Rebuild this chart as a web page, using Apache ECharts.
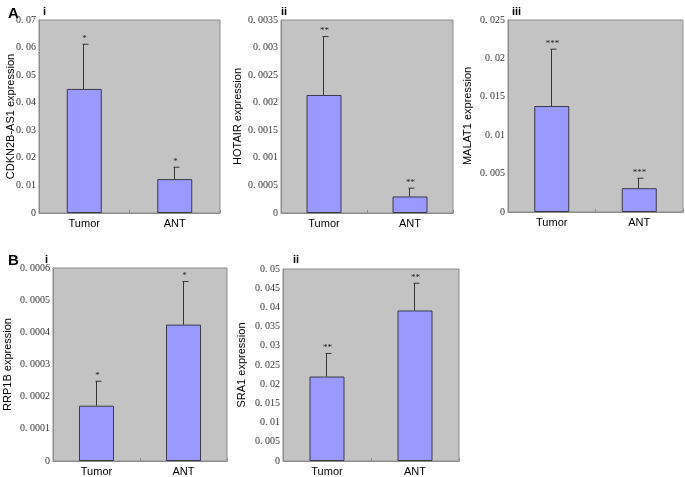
<!DOCTYPE html>
<html>
<head>
<meta charset="utf-8">
<script src="https://cdn.jsdelivr.net/npm/echarts@6/dist/echarts.min.js"></script>
<style>
  html, body { margin: 0; padding: 0; background: #fff; }
  #chart { width: 685px; height: 477px; }
</style>
</head>
<body>
<div id="chart"></div>
<script>
// ---- Data ----
const categories = ['Tumor', 'ANT'];

const cdkn2bValues = [0.045, 0.0123];
const cdkn2bErrTop = [0.0612, 0.0166];
const cdkn2bMarks = ['*', '*'];
const cdkn2bTicks = ['0', '0. 01', '0. 02', '0. 03', '0. 04', '0. 05', '0. 06', '0. 07'];

const hotairValues = [0.00214, 0.0003];
const hotairErrTop = [0.0032, 0.00045];
const hotairMarks = ['**', '**'];
const hotairTicks = ['0', '0. 0005', '0. 001', '0. 0015', '0. 002', '0. 0025', '0. 003', '0. 0035'];

const malat1Values = [0.0138, 0.0031];
const malat1ErrTop = [0.0212, 0.0044];
const malat1Marks = ['***', '***'];
const malat1Ticks = ['0', '0. 005', '0. 01', '0. 015', '0. 02', '0. 025'];

const rrp1bValues = [0.000172, 0.000424];
const rrp1bErrTop = [0.000248, 0.000558];
const rrp1bMarks = ['*', '*'];
const rrp1bTicks = ['0', '0. 0001', '0. 0002', '0. 0003', '0. 0004', '0. 0005', '0. 0006'];

const sra1Values = [0.022, 0.0392];
const sra1ErrTop = [0.028, 0.0463];
const sra1Marks = ['**', '**'];
const sra1Ticks = ['0', '0. 005', '0. 01', '0. 015', '0. 02', '0. 025', '0. 03', '0. 035', '0. 04', '0. 045', '0. 05'];

// ---- Panels ----
const panels = [
  { name: 'CDKN2B-AS1 expression', values: cdkn2bValues, err: cdkn2bErrTop, marks: cdkn2bMarks, ticks: cdkn2bTicks, interval: 0.01,
    grid: { left: 39, top: 20, width: 181, height: 193 }, nameGap: 23 },
  { name: 'HOTAIR expression', values: hotairValues, err: hotairErrTop, marks: hotairMarks, ticks: hotairTicks, interval: 0.0005,
    grid: { left: 281, top: 20, width: 172, height: 193 }, nameGap: 38 },
  { name: 'MALAT1 expression', values: malat1Values, err: malat1ErrTop, marks: malat1Marks, ticks: malat1Ticks, interval: 0.005,
    grid: { left: 508, top: 20, width: 175, height: 192 }, nameGap: 35 },
  { name: 'RRP1B expression', values: rrp1bValues, err: rrp1bErrTop, marks: rrp1bMarks, ticks: rrp1bTicks, interval: 0.0001,
    grid: { left: 53, top: 268, width: 174, height: 196 }, nameGap: 40 },
  { name: 'SRA1 expression', values: sra1Values, err: sra1ErrTop, marks: sra1Marks, ticks: sra1Ticks, interval: 0.005,
    grid: { left: 283, top: 269, width: 176, height: 195 }, nameGap: 36 }
];

const grids = [], xAxes = [], yAxes = [], series = [];
panels.forEach((p, i) => {
  grids.push(Object.assign({
    show: true, backgroundColor: '#C3C3C3', borderColor: '#8c8c8c', borderWidth: 1
  }, p.grid));
  xAxes.push({
    type: 'category', gridIndex: i, data: categories,
    axisLine: { lineStyle: { color: '#8c8c8c' } },
    axisTick: { show: true, inside: true, length: 3, lineStyle: { color: '#8c8c8c' } },
    axisLabel: { fontFamily: 'Liberation Sans', fontSize: 11, color: '#000', margin: 5 }
  });
  const maxV = p.interval * (p.ticks.length - 1);
  yAxes.push({
    type: 'value', gridIndex: i, min: 0, max: maxV, interval: p.interval,
    name: p.name, nameLocation: 'middle', nameGap: p.nameGap, nameMoveOverlap: false,
    nameTextStyle: { fontFamily: 'Liberation Sans', fontSize: 11, color: '#000' },
    splitLine: { show: false },
    axisLine: { show: true, lineStyle: { color: '#8c8c8c' } },
    axisTick: { show: false },
    axisLabel: {
      fontFamily: 'Liberation Serif', fontSize: 10, color: '#333', margin: 3,
      formatter: (v) => p.ticks[Math.round(v / p.interval)] || ''
    }
  });
  series.push({
    type: 'bar', xAxisIndex: i, yAxisIndex: i, data: p.values, barWidth: 35,
    itemStyle: { color: '#9999FF', borderColor: '#3a3a4a', borderWidth: 1 },
    silent: true
  });
  series.push({
    type: 'custom', xAxisIndex: i, yAxisIndex: i, silent: true, z: 5,
    data: p.values.map((v, k) => [k, v, p.err[k]]),
    renderItem: (params, api) => {
      const k = api.value(0);
      const a = api.coord([k, api.value(1)]);
      const b = api.coord([k, api.value(2)]);
      const x = Math.round(a[0]) - 0.5;
      return {
        type: 'group',
        children: [
          { type: 'line', shape: { x1: x, y1: a[1], x2: x, y2: b[1] }, style: { stroke: '#333', lineWidth: 1 } },
          { type: 'line', shape: { x1: x - 1, y1: b[1], x2: x + 5, y2: b[1] }, style: { stroke: '#333', lineWidth: 1 } },
          { type: 'text', x: x + 1, y: b[1] - 1, style: { text: p.marks[params.dataIndex], fill: '#222', fontSize: 9, fontFamily: 'Liberation Serif', align: 'center', verticalAlign: 'bottom' } }
        ]
      };
    }
  });
});

const titleStyle = { fontFamily: 'Liberation Sans', fontWeight: 'bold', color: '#000' };
const chart = echarts.init(document.getElementById('chart'), null, { renderer: 'canvas' });
chart.setOption({
  animation: false,
  backgroundColor: '#fff',
  title: [
    { text: 'A', left: 3, top: 1, textStyle: Object.assign({ fontSize: 15 }, titleStyle) },
    { text: 'i', left: 38, top: 1, textStyle: Object.assign({ fontSize: 11 }, titleStyle) },
    { text: 'ii', left: 276, top: 1, textStyle: Object.assign({ fontSize: 11 }, titleStyle) },
    { text: 'iii', left: 507, top: 1, textStyle: Object.assign({ fontSize: 11 }, titleStyle) },
    { text: 'B', left: 3, top: 248, textStyle: Object.assign({ fontSize: 15 }, titleStyle) },
    { text: 'i', left: 40, top: 249, textStyle: Object.assign({ fontSize: 11 }, titleStyle) },
    { text: 'ii', left: 288, top: 249, textStyle: Object.assign({ fontSize: 11 }, titleStyle) }
  ],
  grid: grids, xAxis: xAxes, yAxis: yAxes, series: series
});
</script>
</body>
</html>
